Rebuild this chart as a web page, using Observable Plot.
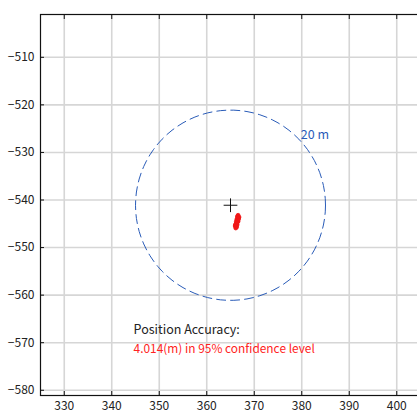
<!DOCTYPE html>
<html><head><meta charset="utf-8">
<script src="https://cdn.jsdelivr.net/npm/d3@7"></script>
<script src="https://cdn.jsdelivr.net/npm/@observablehq/plot@0.6"></script>
<style>html,body{margin:0;padding:0;background:#fff;overflow:hidden}</style>
</head><body><div id="chart"></div>
<script>
const xTicks = [330, 340, 350, 360, 370, 380, 390, 400];
const yTicks = [-510, -520, -530, -540, -550, -560, -570, -580];
const center = {x: 365, y: -541.1};
const radius = 20;
const ptX = [366.6,366.5,366.7,366.4,366.6,366.3,366.5,366.2,366.4,366.6,366.3,366.1,366.4,366.2,366.0,366.3,366.1,366.2,366.5,366.7,366.8,366.0];
const ptY = [-543.2,-543.5,-543.7,-543.9,-544.1,-544.2,-544.4,-544.6,-544.7,-544.5,-545.0,-545.1,-545.2,-545.4,-545.5,-545.7,-545.9,-544.9,-543.4,-544.0,-543.6,-545.3];
const labels = [
  {x: 379.8, y: -526.4, text: "20 m", color: "#2a5cb8", size: 12.5},
  {x: 344.6, y: -567.4, text: "Position Accuracy:", color: "#222", size: 12.5},
  {x: 344.6, y: -571.4, text: "4.014(m) in 95% confidence level", color: "#f22", size: 11.9}
];

const pts = ptX.map((x, i) => ({x, y: ptY[i]}));
const circle = d3.range(0, 361, 4).map(a => ({
  x: center.x + radius * Math.cos(a * Math.PI / 180),
  y: center.y + radius * Math.sin(a * Math.PI / 180)
}));
const font = "'Noto Sans CJK JP', 'Noto Sans', sans-serif";
const fmt = d3.format("");

const chart = Plot.plot({
  width: 417, height: 412,
  marginLeft: 40, marginRight: -3, marginTop: 14, marginBottom: 17,
  style: {fontFamily: font, fontSize: "12px", color: "#222", background: "#fff"},
  x: {domain: [325, 405]},
  y: {domain: [-581.1, -501]},
  marks: [
    Plot.gridX(xTicks, {stroke: "#d6d6d6", strokeOpacity: 1, strokeWidth: 1.6}),
    Plot.gridY(yTicks, {stroke: "#d6d6d6", strokeOpacity: 1, strokeWidth: 1.6}),
    Plot.line(circle, {x: "x", y: "y", stroke: "#2a5cb8", strokeWidth: 1, strokeDasharray: "9,5", curve: "linear"}),
    Plot.dot(pts, {x: "x", y: "y", r: 1.9, fill: "#f01818", stroke: "#f01818", strokeWidth: 0.8}),
    Plot.dot([center], {x: "x", y: "y", symbol: "plus", r: 4.5, stroke: "#111", strokeWidth: 1}),
    Plot.text(labels, {x: "x", y: "y", text: "text", fill: "color", fontSize: "size", textAnchor: "start", lineAnchor: "middle"}),
    Plot.frame({stroke: "#111", strokeWidth: 1.2}),
    Plot.axisX(xTicks, {anchor: "bottom", tickSize: -4, tickPadding: 10, tickFormat: fmt, label: null, fontSize: 12, stroke: "#111"}),
    Plot.axisX(xTicks, {anchor: "top", tickSize: -4, tickFormat: () => "", label: null, stroke: "#111"}),
    Plot.axisY(yTicks, {anchor: "left", tickSize: -4, tickPadding: 10, tickFormat: fmt, label: null, fontSize: 12, stroke: "#111"}),
    Plot.axisY(yTicks, {anchor: "right", tickSize: -4, tickFormat: () => "", label: null, stroke: "#111"})
  ]
});
document.getElementById("chart").appendChild(chart);
</script></body></html>
